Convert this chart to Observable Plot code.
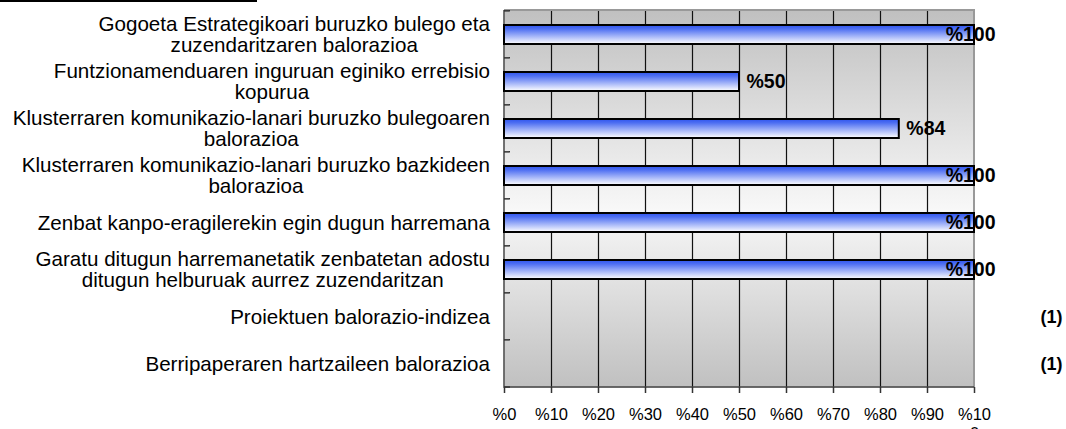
<!DOCTYPE html>
<html>
<head>
<meta charset="utf-8">
<script src="https://cdn.jsdelivr.net/npm/d3@7"></script>
<script src="https://cdn.jsdelivr.net/npm/@observablehq/plot@0.6"></script>
<style>
  body { margin: 0; background: #fff; }
  #wrap { position: relative; width: 1066px; height: 429px; overflow: hidden; }
  #topline { position: absolute; left: 0; top: 0; width: 257px; height: 2px; background: #000; }
</style>
</head>
<body>
<div id="wrap"><div id="chart"></div><div id="topline"></div></div>
<script>
const categories = [
  "Gogoeta Estrategikoari buruzko bulego eta\nzuzendaritzaren balorazioa",
  "Funtzionamenduaren inguruan eginiko errebisio\nkopurua",
  "Klusterraren komunikazio-lanari buruzko bulegoaren\nbalorazioa",
  "Klusterraren komunikazio-lanari buruzko bazkideen\nbalorazioa",
  "Zenbat kanpo-eragilerekin egin dugun harremana",
  "Garatu ditugun harremanetatik zenbatetan adostu\nditugun helburuak aurrez zuzendaritzan",
  "Proiektuen balorazio-indizea",
  "Berripaperaren hartzaileen balorazioa"
];
const values = [100, 50, 84, 100, 100, 100, null, null];
const valueLabels = ["%100", "%50", "%84", "%100", "%100", "%100", null, null];
const notes = [null, null, null, null, null, null, "(1)", "(1)"];
const xTicks = [0, 10, 20, 30, 40, 50, 60, 70, 80, 90, 100];
const xTickLabels = ["%0", "%10", "%20", "%30", "%40", "%50", "%60", "%70", "%80", "%90", "%10\n0"];

const data = categories.map((c, i) => ({category: c, value: values[i], label: valueLabels[i], note: notes[i]}));

const FONT = "'Liberation Sans', Arial, Helvetica, sans-serif";
const PAD_INNER = 0.6, PAD_OUTER = 0.3;

function defs() {
  const d = d3.create("svg:defs");
  const bg = d.append("linearGradient").attr("id", "bgGrad")
    .attr("x1", 0).attr("y1", 0).attr("x2", 0).attr("y2", 1);
  bg.append("stop").attr("offset", "0").attr("stop-color", "#c0c0c0");
  bg.append("stop").attr("offset", "0.53").attr("stop-color", "#f8f8f8");
  bg.append("stop").attr("offset", "1").attr("stop-color", "#c0c0c0");
  const bar = d.append("linearGradient").attr("id", "barGrad")
    .attr("x1", 0).attr("y1", 0).attr("x2", 0).attr("y2", 1);
  bar.append("stop").attr("offset", "0").attr("stop-color", "#2f55ee");
  bar.append("stop").attr("offset", "0.2").attr("stop-color", "#4d6ef2");
  bar.append("stop").attr("offset", "1").attr("stop-color", "#ffffff");
  return d.node();
}

function yChrome(index, scales, values, dims) {
  const y = scales.y;
  const n = categories.length;
  const step = (dims.height - dims.marginTop - dims.marginBottom) / n;
  const bw = (y.bandwidth && typeof y.bandwidth === "function") ? y.bandwidth() : step * (1 - PAD_INNER);
  const g = d3.create("svg:g");
  const left = dims.marginLeft, right = dims.width - dims.marginRight;
  const top = dims.marginTop, bottom = dims.height - dims.marginBottom;
  // top & right border
  g.append("path").attr("d", `M${left},${top}H${right}V${bottom}`)
    .attr("fill", "none").attr("stroke", "#999").attr("stroke-width", 2);
  // left axis & bottom axis lines
  g.append("path").attr("d", `M${left},${top}V${bottom}H${right}`)
    .attr("fill", "none").attr("stroke", "#444").attr("stroke-width", 1.5);
  // category boundary ticks
  const bounds = categories.map(c => y(c) - step * PAD_INNER / 2).concat([bottom]);
  g.selectAll("line.t").data(bounds).join("line")
    .attr("x1", left).attr("x2", left + 6).attr("y1", d => d).attr("y2", d => d)
    .attr("stroke", "#333").attr("stroke-width", 1.5);
  // labels (centered blocks, right edge at left-14)
  const ctx = document.createElement("canvas").getContext("2d");
  const fs = 20.6, lh = 21;
  ctx.font = `${fs}px 'Liberation Sans', Arial, sans-serif`;
  const lg = g.append("g").attr("font-family", FONT).attr("font-size", fs)
    .attr("fill", "#000").attr("text-anchor", "middle");
  categories.forEach(c => {
    const lines = c.split("\n");
    const w = d3.max(lines, l => ctx.measureText(l).width);
    const cx = left - 14 - w / 2;
    const cy = y(c) + bw / 2;
    const t = lg.append("text");
    lines.forEach((l, k) => {
      t.append("tspan").attr("x", cx).attr("y", cy + (k - (lines.length - 1) / 2) * lh)
        .attr("dy", "0.35em").text(l);
    });
  });
  return g.node();
}

const chart = Plot.plot({
  width: 1066,
  height: 429,
  marginLeft: 504,
  marginRight: 92,
  marginTop: 10,
  marginBottom: 42,
  style: {fontFamily: FONT, fontSize: "16.5px", color: "#000", background: "#fff"},
  x: {domain: [0, 100], axis: null},
  y: {type: "band", domain: categories, paddingInner: PAD_INNER, paddingOuter: PAD_OUTER, axis: null},
  marks: [
    defs,
    Plot.frame({fill: "url(#bgGrad)", stroke: null}),
    Plot.ruleX(xTicks.slice(1, -1), {stroke: "#111", strokeWidth: 1.2}),
    yChrome,
    Plot.axisX({
      ticks: xTicks,
      tickFormat: d => xTickLabels[xTicks.indexOf(d)],
      tickSize: 6,
      tickPadding: 13,
      fontSize: 16.5,
      lineHeight: 1.15,
      stroke: "#333",
      strokeWidth: 1.5,
      label: null
    }),
    Plot.barX(data.filter(d => d.value != null), {
      x: "value", y: "category", fill: "url(#barGrad)", stroke: "#000", strokeWidth: 2
    }),
    Plot.text(data.filter(d => d.value != null && d.value < 100), {
      x: "value", y: "category", text: "label", textAnchor: "start", dx: 7,
      fontWeight: "bold", fontSize: 19.5, fill: "#000"
    }),
    Plot.text(data.filter(d => d.value != null && d.value >= 100), {
      x: "value", y: "category", text: "label", textAnchor: "end", dx: 21,
      fontWeight: "bold", fontSize: 19.5, fill: "#000"
    }),
    Plot.text(data.filter(d => d.note), {
      y: "category", text: "note", frameAnchor: "right", textAnchor: "end", dx: 88,
      fontWeight: "bold", fontSize: 18, fill: "#000"
    })
  ]
});
document.getElementById("chart").appendChild(chart);
</script>
</body>
</html>
